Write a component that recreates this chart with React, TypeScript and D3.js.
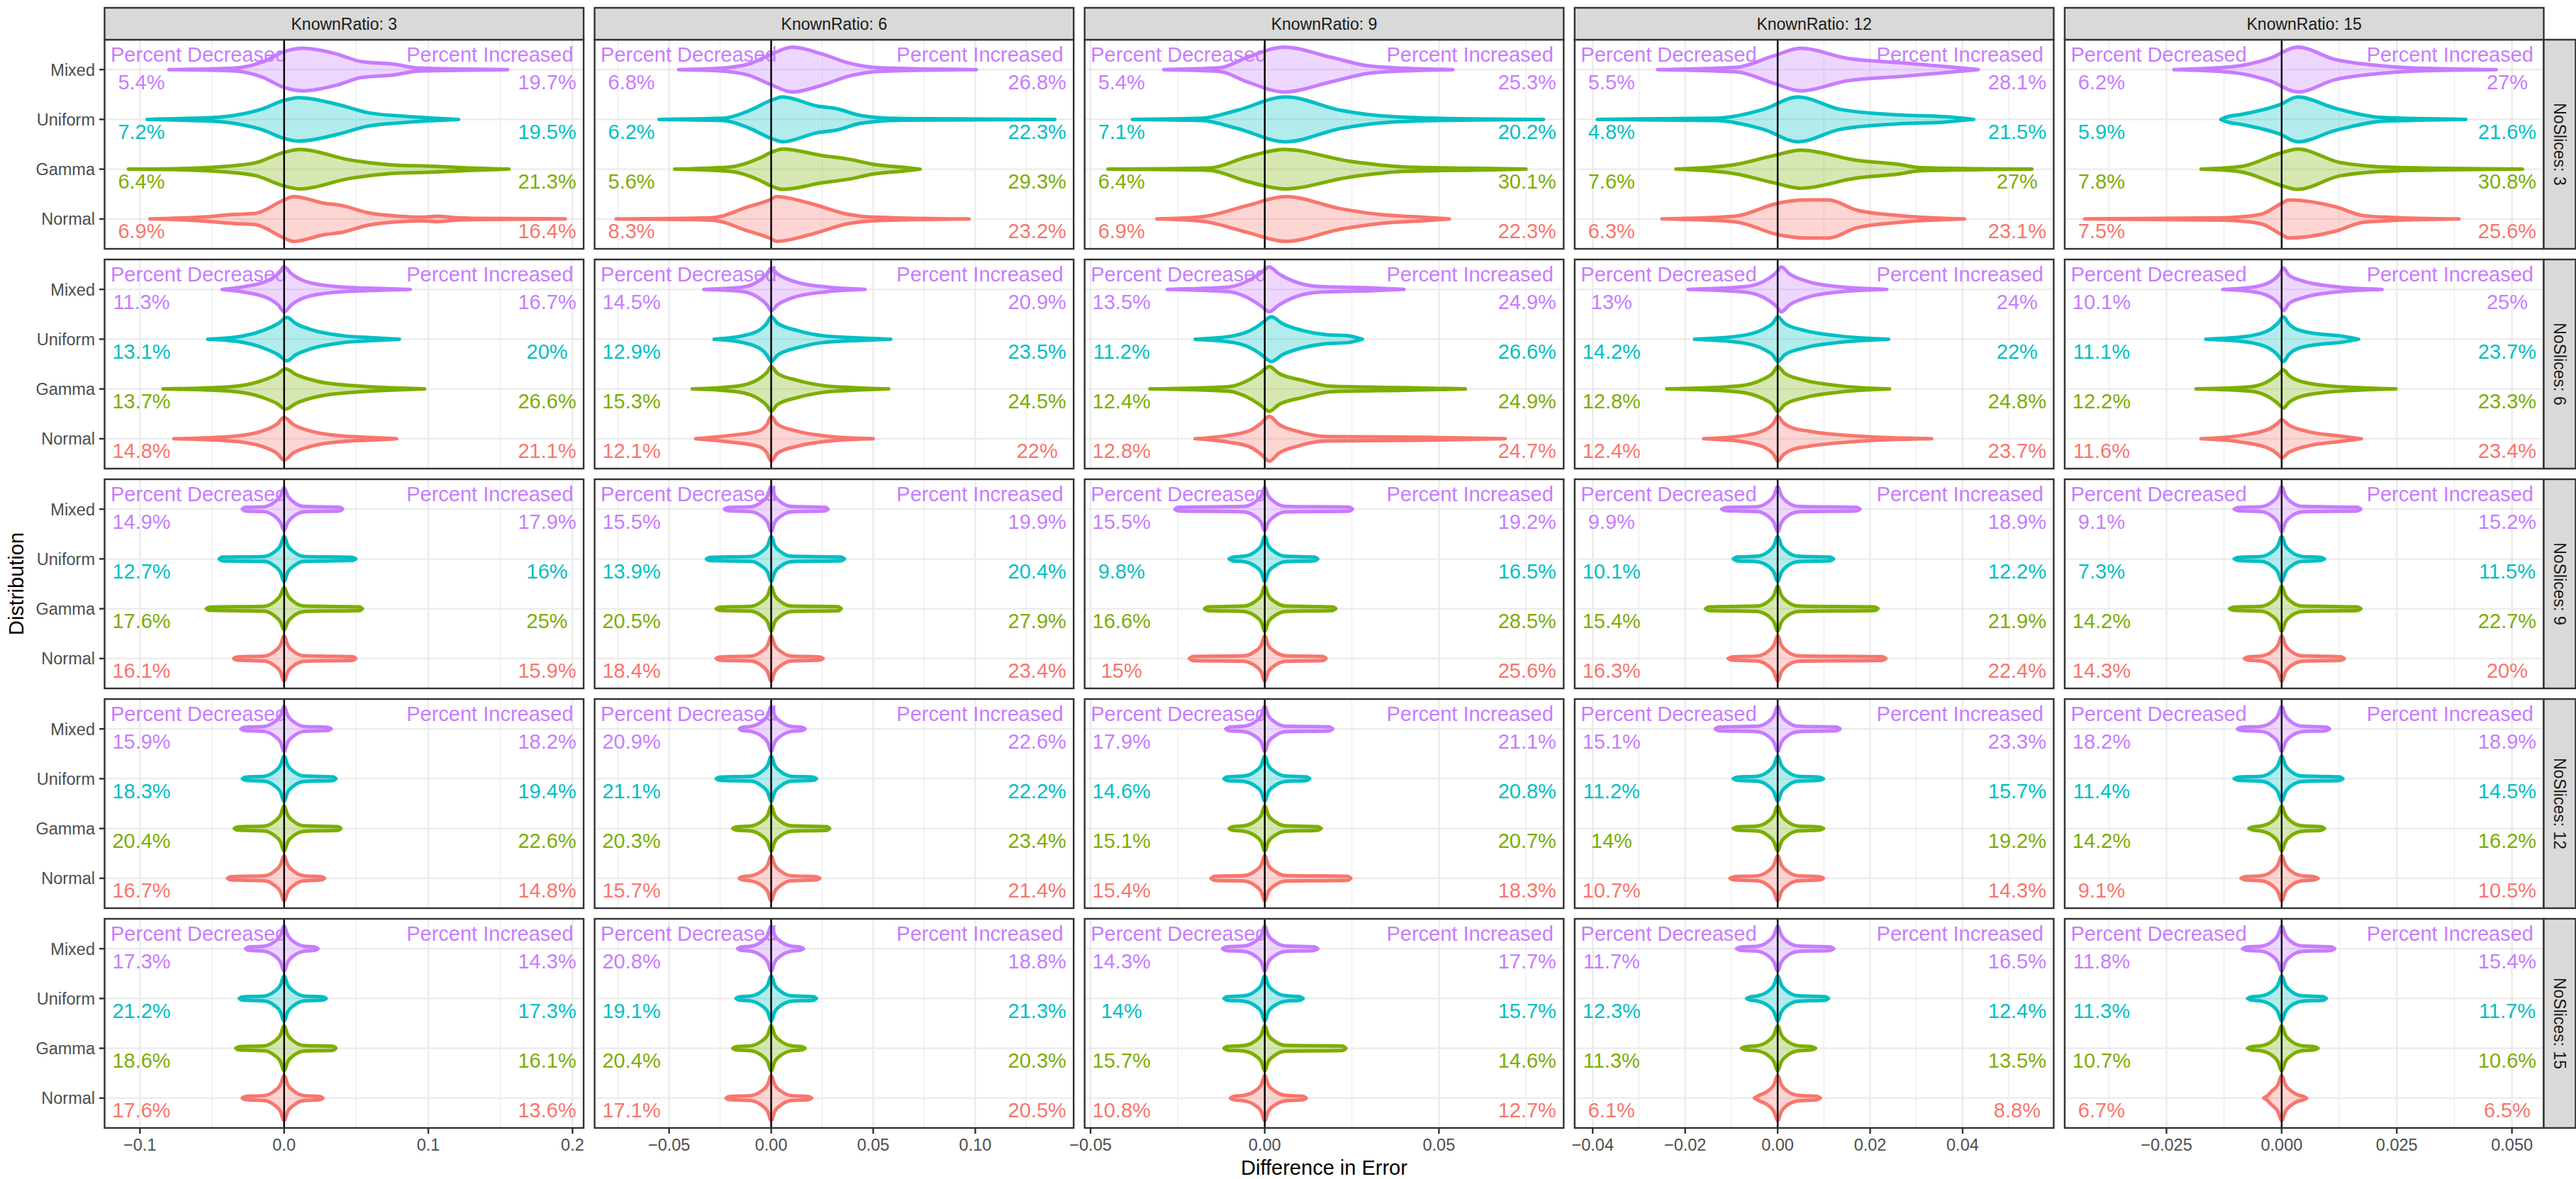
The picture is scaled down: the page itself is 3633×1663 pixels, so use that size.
import React, { useEffect, useRef } from 'react';
import * as d3 from 'd3';

const knownRatios = [3, 6, 9, 12, 15];
const noSlices = [3, 6, 9, 12, 15];
const distributions = ['Normal', 'Gamma', 'Uniform', 'Mixed'];
const distColors = ['#F8766D', '#7CAE00', '#00BFC4', '#C77CFF'];

// free x scales, one per KnownRatio column
const xLimits = [[-0.1245, 0.2077], [-0.0865, 0.1482], [-0.0517, 0.0858], [-0.0439, 0.0597], [-0.0471, 0.0569]];
const xBreaks = [[-0.1, 0, 0.1, 0.2], [-0.05, 0, 0.05, 0.1], [-0.05, 0, 0.05], [-0.04, -0.02, 0, 0.02, 0.04], [-0.025, 0, 0.025, 0.05]];
const xBreakLabels = [
  ['−0.1', '0.0', '0.1', '0.2'],
  ['−0.05', '0.00', '0.05', '0.10'],
  ['−0.05', '0.00', '0.05'],
  ['−0.04', '−0.02', '0.00', '0.02', '0.04'],
  ['−0.025', '0.000', '0.025', '0.050'],
];
const xMinorBreaks = [[-0.05, 0.05, 0.15], [-0.075, -0.025, 0.025, 0.075, 0.125], [-0.025, 0.025, 0.075], [-0.03, -0.01, 0.01, 0.03, 0.05], [-0.0375, -0.0125, 0.0125, 0.0375]];

// violin outlines: [difference, relative half width], per column, order Normal, Gamma, Uniform, Mixed
const violinsSlices3 = [
  [
    [[-0.093, 0], [-0.058, 0.08], [-0.035, 0.2], [-0.02, 0.25], [0, 0.85], [0.0065, 1], [0.028, 0.7], [0.04, 0.6], [0.058, 0.28], [0.08, 0.12], [0.095, 0.08], [0.106, 0.12], [0.118, 0.06], [0.132, 0.03], [0.195, 0]],
    [[-0.108, 0], [-0.063, 0.04], [-0.041, 0.12], [-0.019, 0.3], [0, 0.75], [0.011, 0.88], [0.045, 0.42], [0.08, 0.17], [0.1, 0.14], [0.13, 0.05], [0.156, 0]],
    [[-0.095, 0], [-0.063, 0.05], [-0.045, 0.1], [-0.015, 0.47], [0, 0.85], [0.01, 0.97], [0.037, 0.67], [0.058, 0.3], [0.085, 0.13], [0.102, 0.06], [0.121, 0]],
    [[-0.08, 0], [-0.035, 0.06], [-0.015, 0.34], [0, 0.8], [0.013, 0.95], [0.035, 0.72], [0.054, 0.35], [0.076, 0.24], [0.093, 0.07], [0.155, 0]],
  ],
  [
    [[-0.076, 0], [-0.0295, 0.05], [-0.011, 0.55], [0, 0.88], [0.0026, 1], [0.019, 0.7], [0.038, 0.2], [0.05, 0.08], [0.097, 0]],
    [[-0.0473, 0], [-0.02, 0.1], [-0.0055, 0.5], [0, 0.75], [0.0056, 0.9], [0.0255, 0.6], [0.0377, 0.45], [0.05, 0.22], [0.065, 0.08], [0.073, 0]],
    [[-0.055, 0], [-0.0235, 0.05], [-0.011, 0.38], [0, 0.85], [0.0056, 1], [0.0224, 0.6], [0.032, 0.48], [0.044, 0.17], [0.062, 0.04], [0.139, 0]],
    [[-0.0454, 0], [-0.0265, 0.05], [-0.011, 0.25], [0, 0.68], [0.0103, 1], [0.0255, 0.68], [0.0377, 0.3], [0.053, 0.08], [0.075, 0.03], [0.1005, 0]],
  ],
  [
    [[-0.031, 0], [-0.018, 0.1], [-0.005, 0.6], [0.006, 1], [0.022, 0.45], [0.033, 0.2], [0.045, 0.08], [0.053, 0]],
    [[-0.045, 0], [-0.016, 0.05], [-0.005, 0.55], [0.0056, 0.88], [0.0245, 0.35], [0.04, 0.1], [0.06, 0.04], [0.075, 0]],
    [[-0.038, 0], [-0.018, 0.05], [-0.008, 0.4], [0.006, 1], [0.022, 0.4], [0.033, 0.16], [0.049, 0.05], [0.08, 0]],
    [[-0.029, 0], [-0.013, 0.08], [-0.005, 0.55], [0.0056, 1], [0.019, 0.55], [0.03, 0.16], [0.04, 0.06], [0.054, 0]],
  ],
  [
    [[-0.025, 0], [-0.0093, 0.12], [0, 0.7], [0.006, 0.85], [0.011, 0.85], [0.017, 0.4], [0.027, 0.14], [0.0404, 0]],
    [[-0.022, 0], [-0.0093, 0.2], [-0.001, 0.6], [0.005, 0.85], [0.017, 0.4], [0.026, 0.22], [0.031, 0.07], [0.055, 0]],
    [[-0.039, 0], [-0.0134, 0.05], [-0.003, 0.45], [0.0044, 1], [0.0134, 0.45], [0.026, 0.2], [0.036, 0.12], [0.0424, 0]],
    [[-0.026, 0], [-0.009, 0.1], [-0.001, 0.6], [0.005, 0.95], [0.015, 0.5], [0.027, 0.3], [0.037, 0.12], [0.0434, 0]],
  ],
  [
    [[-0.0428, 0], [-0.0128, 0.05], [-0.0047, 0.2], [0, 0.7], [0.0015, 0.85], [0.0116, 0.55], [0.0177, 0.15], [0.024, 0.07], [0.0385, 0]],
    [[-0.0175, 0], [-0.0088, 0.12], [-0.0005, 0.7], [0.0035, 0.9], [0.0126, 0.3], [0.024, 0.08], [0.0523, 0]],
    [[-0.0132, 0], [-0.012, 0.1], [-0.0088, 0.22], [-0.0005, 0.65], [0.0035, 1], [0.0116, 0.5], [0.022, 0.08], [0.04, 0]],
    [[-0.0234, 0], [-0.011, 0.12], [-0.0026, 0.5], [0.0035, 1], [0.0116, 0.45], [0.02, 0.2], [0.03, 0.06], [0.0466, 0]],
  ],
];

const violinsSlices6 = [
  [
    [[-0.0765, 0], [-0.037, 0.1], [-0.015, 0.35], [-0.005, 0.65], [0, 0.95], [0.006, 0.65], [0.019, 0.33], [0.041, 0.12], [0.06, 0.06], [0.078, 0]],
    [[-0.084, 0], [-0.037, 0.1], [-0.015, 0.38], [-0.005, 0.65], [0.001, 0.9], [0.008, 0.65], [0.024, 0.33], [0.054, 0.12], [0.075, 0.05], [0.0975, 0]],
    [[-0.053, 0], [-0.0325, 0.1], [-0.015, 0.38], [-0.004, 0.7], [0.002, 0.97], [0.008, 0.7], [0.019, 0.42], [0.041, 0.15], [0.06, 0.07], [0.08, 0]],
    [[-0.043, 0], [-0.028, 0.12], [-0.011, 0.4], [-0.004, 0.7], [0, 1], [0.005, 0.7], [0.015, 0.35], [0.037, 0.12], [0.06, 0.05], [0.0875, 0]],
  ],
  [
    [[-0.037, 0], [-0.02, 0.15], [-0.006, 0.35], [-0.002, 0.65], [0, 1], [0.003, 0.65], [0.013, 0.33], [0.029, 0.1], [0.05, 0]],
    [[-0.0387, 0], [-0.017, 0.12], [-0.006, 0.45], [-0.002, 0.75], [0, 1], [0.003, 0.7], [0.013, 0.38], [0.0255, 0.15], [0.04, 0.06], [0.0576, 0]],
    [[-0.028, 0], [-0.014, 0.15], [-0.005, 0.45], [-0.002, 0.72], [0, 1], [0.003, 0.72], [0.013, 0.38], [0.0255, 0.15], [0.04, 0.07], [0.0586, 0]],
    [[-0.033, 0], [-0.014, 0.1], [-0.005, 0.45], [-0.002, 0.7], [0, 0.95], [0.003, 0.7], [0.0103, 0.38], [0.0255, 0.12], [0.046, 0]],
  ],
  [
    [[-0.02, 0], [-0.0105, 0.15], [-0.004, 0.38], [-0.001, 0.7], [0.0013, 1], [0.004, 0.65], [0.0094, 0.33], [0.0175, 0.1], [0.045, 0.07], [0.069, 0]],
    [[-0.033, 0], [-0.0105, 0.1], [-0.004, 0.45], [-0.001, 0.75], [0.0013, 1], [0.004, 0.7], [0.011, 0.38], [0.019, 0.12], [0.04, 0.06], [0.0576, 0]],
    [[-0.02, 0], [-0.009, 0.15], [-0.003, 0.48], [-0.0005, 0.75], [0.0019, 1], [0.005, 0.7], [0.011, 0.38], [0.0175, 0.2], [0.024, 0.15], [0.028, 0]],
    [[-0.028, 0], [-0.0105, 0.1], [-0.004, 0.45], [-0.001, 0.75], [0.0013, 1], [0.004, 0.7], [0.008, 0.38], [0.016, 0.12], [0.03, 0.07], [0.04, 0]],
  ],
  [
    [[-0.016, 0], [-0.007, 0.15], [-0.0025, 0.42], [-0.0008, 0.72], [0, 1], [0.0012, 0.72], [0.003, 0.5], [0.007, 0.33], [0.017, 0.12], [0.0333, 0]],
    [[-0.024, 0], [-0.009, 0.12], [-0.003, 0.45], [-0.001, 0.72], [0, 1], [0.0015, 0.7], [0.006, 0.38], [0.013, 0.15], [0.0242, 0]],
    [[-0.018, 0], [-0.008, 0.15], [-0.003, 0.45], [-0.001, 0.72], [0, 1], [0.0015, 0.7], [0.006, 0.38], [0.013, 0.15], [0.024, 0]],
    [[-0.0194, 0], [-0.007, 0.12], [-0.002, 0.48], [-0.0003, 0.75], [0.0008, 1], [0.0025, 0.7], [0.006, 0.38], [0.013, 0.12], [0.0236, 0]],
  ],
  [
    [[-0.0175, 0], [-0.0088, 0.15], [-0.0026, 0.45], [-0.0008, 0.7], [0, 0.85], [0.0015, 0.62], [0.0055, 0.33], [0.0126, 0.12], [0.0173, 0]],
    [[-0.0186, 0], [-0.0067, 0.1], [-0.0026, 0.38], [-0.0008, 0.65], [0.0004, 0.85], [0.0015, 0.62], [0.0035, 0.38], [0.0096, 0.15], [0.0248, 0]],
    [[-0.0165, 0], [-0.0077, 0.12], [-0.0026, 0.42], [-0.0008, 0.72], [0.0004, 1], [0.0015, 0.7], [0.0035, 0.42], [0.0096, 0.2], [0.0126, 0.15], [0.0167, 0]],
    [[-0.0128, 0], [-0.0057, 0.12], [-0.0016, 0.45], [-0.0004, 0.7], [0.0004, 0.95], [0.0015, 0.65], [0.0045, 0.38], [0.0116, 0.12], [0.0218, 0]],
  ],
];

const violinsSlices9 = [
  [
    [[-0.035, 0], [-0.033, 0.07], [-0.014, 0.11], [-0.007, 0.3], [-0.0025, 0.6], [0, 1], [0.0025, 0.6], [0.007, 0.3], [0.014, 0.12], [0.0477, 0.08], [0.0497, 0]],
    [[-0.054, 0], [-0.052, 0.07], [-0.014, 0.11], [-0.007, 0.3], [-0.0025, 0.6], [0, 0.95], [0.0025, 0.6], [0.007, 0.3], [0.014, 0.12], [0.0523, 0.08], [0.0543, 0]],
    [[-0.045, 0], [-0.043, 0.08], [-0.014, 0.11], [-0.007, 0.3], [-0.0025, 0.6], [0, 1], [0.0025, 0.6], [0.007, 0.3], [0.014, 0.11], [0.0477, 0.07], [0.0497, 0]],
    [[-0.029, 0], [-0.027, 0.08], [-0.014, 0.11], [-0.007, 0.3], [-0.0025, 0.6], [0, 0.95], [0.0025, 0.6], [0.007, 0.3], [0.014, 0.12], [0.0386, 0.08], [0.0406, 0]],
  ],
  [
    [[-0.0269, 0], [-0.0254, 0.07], [-0.01, 0.11], [-0.005, 0.3], [-0.0017, 0.6], [0, 1], [0.0017, 0.6], [0.005, 0.3], [0.01, 0.11], [0.0239, 0.07], [0.0254, 0]],
    [[-0.0269, 0], [-0.0254, 0.07], [-0.01, 0.11], [-0.005, 0.3], [-0.0017, 0.6], [0, 1], [0.0017, 0.6], [0.005, 0.3], [0.01, 0.12], [0.0328, 0.09], [0.0343, 0]],
    [[-0.0317, 0], [-0.0302, 0.07], [-0.01, 0.11], [-0.005, 0.3], [-0.0017, 0.6], [0, 1], [0.0017, 0.6], [0.005, 0.3], [0.01, 0.12], [0.0344, 0.08], [0.0359, 0]],
    [[-0.0229, 0], [-0.0214, 0.07], [-0.01, 0.11], [-0.005, 0.3], [-0.0017, 0.6], [0, 1], [0.0017, 0.6], [0.005, 0.3], [0.01, 0.12], [0.0264, 0.08], [0.0279, 0]],
  ],
  [
    [[-0.0216, 0], [-0.0206, 0.09], [-0.006, 0.12], [-0.003, 0.3], [-0.001, 0.6], [0, 1], [0.001, 0.6], [0.003, 0.3], [0.006, 0.12], [0.0166, 0.09], [0.0176, 0]],
    [[-0.0173, 0], [-0.0163, 0.08], [-0.006, 0.12], [-0.003, 0.3], [-0.001, 0.6], [0, 1], [0.001, 0.6], [0.003, 0.3], [0.006, 0.12], [0.0194, 0.08], [0.0204, 0]],
    [[-0.0102, 0], [-0.0092, 0.08], [-0.006, 0.12], [-0.003, 0.3], [-0.001, 0.6], [0, 1], [0.001, 0.6], [0.003, 0.3], [0.006, 0.12], [0.0142, 0.08], [0.0152, 0]],
    [[-0.0258, 0], [-0.0248, 0.08], [-0.006, 0.12], [-0.003, 0.3], [-0.001, 0.6], [0, 0.95], [0.001, 0.6], [0.003, 0.3], [0.006, 0.12], [0.0242, 0.09], [0.0252, 0]],
  ],
  [
    [[-0.0107, 0], [-0.0099, 0.07], [-0.0045, 0.11], [-0.0022, 0.3], [-0.0008, 0.6], [0, 1], [0.0008, 0.6], [0.0022, 0.3], [0.0045, 0.12], [0.0226, 0.08], [0.0234, 0]],
    [[-0.0156, 0], [-0.0148, 0.08], [-0.0045, 0.12], [-0.0022, 0.3], [-0.0008, 0.6], [0, 1], [0.0008, 0.6], [0.0022, 0.3], [0.0045, 0.12], [0.0209, 0.08], [0.0217, 0]],
    [[-0.0096, 0], [-0.0088, 0.08], [-0.0045, 0.12], [-0.0022, 0.3], [-0.0008, 0.6], [0, 1], [0.0008, 0.6], [0.0022, 0.3], [0.0045, 0.12], [0.0113, 0.08], [0.0121, 0]],
    [[-0.0121, 0], [-0.0113, 0.07], [-0.0045, 0.11], [-0.0022, 0.3], [-0.0008, 0.6], [0, 1], [0.0008, 0.6], [0.0022, 0.3], [0.0045, 0.12], [0.017, 0.08], [0.0178, 0]],
  ],
  [
    [[-0.0081, 0], [-0.0073, 0.07], [-0.0045, 0.11], [-0.0022, 0.3], [-0.0008, 0.6], [0, 1], [0.0008, 0.6], [0.0022, 0.3], [0.0045, 0.12], [0.0128, 0.08], [0.0136, 0]],
    [[-0.0113, 0], [-0.0105, 0.07], [-0.0045, 0.11], [-0.0022, 0.3], [-0.0008, 0.6], [0, 1], [0.0008, 0.6], [0.0022, 0.3], [0.0045, 0.12], [0.0164, 0.08], [0.0172, 0]],
    [[-0.0103, 0], [-0.0095, 0.07], [-0.0045, 0.11], [-0.0022, 0.3], [-0.0008, 0.6], [0, 1], [0.0008, 0.6], [0.0022, 0.3], [0.0045, 0.11], [0.0085, 0.07], [0.0093, 0]],
    [[-0.0103, 0], [-0.0095, 0.07], [-0.0045, 0.11], [-0.0022, 0.3], [-0.0008, 0.6], [0, 1], [0.0008, 0.6], [0.0022, 0.3], [0.0045, 0.12], [0.0164, 0.08], [0.0172, 0]],
  ],
];

const violinsSlices12 = [
  [
    [[-0.0392, 0], [-0.0372, 0.07], [-0.014, 0.11], [-0.007, 0.3], [-0.0025, 0.6], [0, 1], [0.0025, 0.6], [0.007, 0.3], [0.014, 0.11], [0.026, 0.07], [0.028, 0]],
    [[-0.0346, 0], [-0.0326, 0.07], [-0.014, 0.11], [-0.007, 0.3], [-0.0025, 0.6], [0, 1], [0.0025, 0.6], [0.007, 0.3], [0.014, 0.12], [0.0374, 0.08], [0.0394, 0]],
    [[-0.029, 0], [-0.027, 0.07], [-0.014, 0.11], [-0.007, 0.3], [-0.0025, 0.6], [0, 1], [0.0025, 0.6], [0.007, 0.3], [0.014, 0.12], [0.034, 0.08], [0.036, 0]],
    [[-0.03, 0], [-0.028, 0.07], [-0.014, 0.11], [-0.007, 0.3], [-0.0025, 0.6], [0, 1], [0.0025, 0.6], [0.007, 0.3], [0.014, 0.11], [0.0306, 0.07], [0.0326, 0]],
  ],
  [
    [[-0.0156, 0], [-0.0141, 0.07], [-0.01, 0.11], [-0.005, 0.3], [-0.0017, 0.6], [0, 1], [0.0017, 0.6], [0.005, 0.3], [0.01, 0.11], [0.0223, 0.07], [0.0238, 0]],
    [[-0.0188, 0], [-0.0173, 0.07], [-0.01, 0.11], [-0.005, 0.3], [-0.0017, 0.6], [0, 1], [0.0017, 0.6], [0.005, 0.3], [0.01, 0.12], [0.0272, 0.08], [0.0287, 0]],
    [[-0.0269, 0], [-0.0254, 0.07], [-0.01, 0.11], [-0.005, 0.3], [-0.0017, 0.6], [0, 1], [0.0017, 0.6], [0.005, 0.3], [0.01, 0.11], [0.0207, 0.07], [0.0222, 0]],
    [[-0.0156, 0], [-0.0141, 0.07], [-0.01, 0.11], [-0.005, 0.3], [-0.0017, 0.6], [0, 1], [0.0017, 0.6], [0.005, 0.3], [0.01, 0.11], [0.0151, 0.07], [0.0166, 0]],
  ],
  [
    [[-0.0154, 0], [-0.0144, 0.09], [-0.006, 0.12], [-0.003, 0.3], [-0.001, 0.6], [0, 1], [0.001, 0.6], [0.003, 0.3], [0.006, 0.12], [0.0237, 0.09], [0.0247, 0]],
    [[-0.0102, 0], [-0.0092, 0.08], [-0.006, 0.12], [-0.003, 0.3], [-0.001, 0.6], [0, 1], [0.001, 0.6], [0.003, 0.3], [0.006, 0.12], [0.0152, 0.08], [0.0162, 0]],
    [[-0.0117, 0], [-0.0107, 0.08], [-0.006, 0.12], [-0.003, 0.3], [-0.001, 0.6], [0, 1], [0.001, 0.6], [0.003, 0.3], [0.006, 0.12], [0.0119, 0.08], [0.0129, 0]],
    [[-0.0112, 0], [-0.0102, 0.08], [-0.006, 0.12], [-0.003, 0.3], [-0.001, 0.6], [0, 1], [0.001, 0.6], [0.003, 0.3], [0.006, 0.12], [0.0185, 0.09], [0.0195, 0]],
  ],
  [
    [[-0.0103, 0], [-0.0095, 0.07], [-0.0045, 0.11], [-0.0022, 0.3], [-0.0008, 0.6], [0, 1], [0.0008, 0.6], [0.0022, 0.3], [0.0045, 0.11], [0.0091, 0.07], [0.0099, 0]],
    [[-0.0096, 0], [-0.0088, 0.07], [-0.0045, 0.11], [-0.0022, 0.3], [-0.0008, 0.6], [0, 1], [0.0008, 0.6], [0.0022, 0.3], [0.0045, 0.11], [0.0091, 0.07], [0.0099, 0]],
    [[-0.0096, 0], [-0.0088, 0.07], [-0.0045, 0.11], [-0.0022, 0.3], [-0.0008, 0.6], [0, 1], [0.0008, 0.6], [0.0022, 0.3], [0.0045, 0.11], [0.0091, 0.07], [0.0099, 0]],
    [[-0.0135, 0], [-0.0127, 0.08], [-0.0045, 0.12], [-0.0022, 0.3], [-0.0008, 0.6], [0, 1], [0.0008, 0.6], [0.0022, 0.3], [0.0045, 0.12], [0.0127, 0.08], [0.0135, 0]],
  ],
  [
    [[-0.0088, 0], [-0.008, 0.07], [-0.0045, 0.11], [-0.0022, 0.3], [-0.0008, 0.6], [0, 1], [0.0008, 0.6], [0.0022, 0.3], [0.0045, 0.11], [0.0071, 0.07], [0.0079, 0]],
    [[-0.0071, 0], [-0.0063, 0.07], [-0.0045, 0.11], [-0.0022, 0.3], [-0.0008, 0.6], [0, 1], [0.0008, 0.6], [0.0022, 0.3], [0.0045, 0.12], [0.0085, 0.08], [0.0093, 0]],
    [[-0.0103, 0], [-0.0095, 0.07], [-0.0045, 0.11], [-0.0022, 0.3], [-0.0008, 0.6], [0, 1], [0.0008, 0.6], [0.0022, 0.3], [0.0045, 0.12], [0.0125, 0.08], [0.0133, 0]],
    [[-0.0096, 0], [-0.0088, 0.07], [-0.0045, 0.11], [-0.0022, 0.3], [-0.0008, 0.6], [0, 1], [0.0008, 0.6], [0.0022, 0.3], [0.0045, 0.12], [0.0096, 0.08], [0.0104, 0]],
  ],
];

const violinsSlices15 = [
  [
    [[-0.029, 0], [-0.027, 0.07], [-0.014, 0.11], [-0.007, 0.3], [-0.0025, 0.6], [0, 1], [0.0025, 0.6], [0.007, 0.3], [0.014, 0.11], [0.0249, 0.07], [0.0269, 0]],
    [[-0.0335, 0], [-0.0315, 0.07], [-0.014, 0.11], [-0.007, 0.3], [-0.0025, 0.6], [0, 1], [0.0025, 0.6], [0.007, 0.3], [0.014, 0.12], [0.034, 0.09], [0.036, 0]],
    [[-0.0312, 0], [-0.0292, 0.07], [-0.014, 0.11], [-0.007, 0.3], [-0.0025, 0.6], [0, 1], [0.0025, 0.6], [0.007, 0.3], [0.014, 0.11], [0.0272, 0.07], [0.0292, 0]],
    [[-0.0267, 0], [-0.0247, 0.07], [-0.014, 0.11], [-0.007, 0.3], [-0.0025, 0.6], [0, 1], [0.0025, 0.6], [0.007, 0.3], [0.014, 0.11], [0.0215, 0.07], [0.0235, 0]],
  ],
  [
    [[-0.0221, 0], [-0.0206, 0.07], [-0.01, 0.11], [-0.005, 0.3], [-0.0017, 0.6], [0, 1], [0.0017, 0.6], [0.005, 0.3], [0.01, 0.11], [0.0183, 0.07], [0.0198, 0]],
    [[-0.0188, 0], [-0.0173, 0.07], [-0.01, 0.11], [-0.005, 0.3], [-0.0017, 0.6], [0, 1], [0.0017, 0.6], [0.005, 0.3], [0.01, 0.11], [0.0151, 0.07], [0.0166, 0]],
    [[-0.0172, 0], [-0.0157, 0.07], [-0.01, 0.11], [-0.005, 0.3], [-0.0017, 0.6], [0, 1], [0.0017, 0.6], [0.005, 0.3], [0.01, 0.12], [0.0207, 0.08], [0.0222, 0]],
    [[-0.0164, 0], [-0.0149, 0.07], [-0.01, 0.11], [-0.005, 0.3], [-0.0017, 0.6], [0, 1], [0.0017, 0.6], [0.005, 0.3], [0.01, 0.11], [0.0143, 0.07], [0.0158, 0]],
  ],
  [
    [[-0.0098, 0], [-0.0088, 0.08], [-0.006, 0.12], [-0.003, 0.3], [-0.001, 0.6], [0, 1], [0.001, 0.6], [0.003, 0.3], [0.006, 0.12], [0.0109, 0.08], [0.0119, 0]],
    [[-0.0117, 0], [-0.0107, 0.08], [-0.006, 0.12], [-0.003, 0.3], [-0.001, 0.6], [0, 1], [0.001, 0.6], [0.003, 0.3], [0.006, 0.13], [0.0223, 0.1], [0.0233, 0]],
    [[-0.0117, 0], [-0.0107, 0.08], [-0.006, 0.12], [-0.003, 0.3], [-0.001, 0.6], [0, 1], [0.001, 0.6], [0.003, 0.3], [0.006, 0.12], [0.01, 0.08], [0.011, 0]],
    [[-0.0121, 0], [-0.0111, 0.08], [-0.006, 0.12], [-0.003, 0.3], [-0.001, 0.6], [0, 1], [0.001, 0.6], [0.003, 0.3], [0.006, 0.12], [0.0142, 0.08], [0.0152, 0]],
  ],
  [
    [[-0.005, 0], [-0.0042, 0.1], [-0.0022, 0.3], [-0.0008, 0.6], [0, 1], [0.0008, 0.6], [0.0022, 0.3], [0.0045, 0.12], [0.0084, 0.08], [0.0092, 0]],
    [[-0.0078, 0], [-0.007, 0.07], [-0.0045, 0.11], [-0.0022, 0.3], [-0.0008, 0.6], [0, 1], [0.0008, 0.6], [0.0022, 0.3], [0.0045, 0.11], [0.0074, 0.07], [0.0082, 0]],
    [[-0.0067, 0], [-0.0059, 0.07], [-0.0045, 0.11], [-0.0022, 0.3], [-0.0008, 0.6], [0, 1], [0.0008, 0.6], [0.0022, 0.3], [0.0045, 0.12], [0.0102, 0.08], [0.011, 0]],
    [[-0.0089, 0], [-0.0081, 0.07], [-0.0045, 0.11], [-0.0022, 0.3], [-0.0008, 0.6], [0, 1], [0.0008, 0.6], [0.0022, 0.3], [0.0045, 0.12], [0.0113, 0.08], [0.0121, 0]],
  ],
  [
    [[-0.0039, 0], [-0.0031, 0.1], [-0.0022, 0.3], [-0.0008, 0.6], [0, 1], [0.0008, 0.6], [0.0022, 0.3], [0.0038, 0.12], [0.0046, 0.09], [0.0054, 0]],
    [[-0.0074, 0], [-0.0066, 0.07], [-0.0045, 0.11], [-0.0022, 0.3], [-0.0008, 0.6], [0, 1], [0.0008, 0.6], [0.0022, 0.3], [0.0045, 0.11], [0.0071, 0.07], [0.0079, 0]],
    [[-0.0074, 0], [-0.0066, 0.07], [-0.0045, 0.11], [-0.0022, 0.3], [-0.0008, 0.6], [0, 1], [0.0008, 0.6], [0.0022, 0.3], [0.0045, 0.12], [0.0089, 0.08], [0.0097, 0]],
    [[-0.0085, 0], [-0.0077, 0.07], [-0.0045, 0.11], [-0.0022, 0.3], [-0.0008, 0.6], [0, 1], [0.0008, 0.6], [0.0022, 0.3], [0.0045, 0.12], [0.0107, 0.08], [0.0115, 0]],
  ],
];

const violins = [violinsSlices3, violinsSlices6, violinsSlices9, violinsSlices12, violinsSlices15];

// percent labels [row NoSlices][column KnownRatio][Normal, Gamma, Uniform, Mixed]
const percentDecreased = [
  [[6.9, 6.4, 7.2, 5.4], [8.3, 5.6, 6.2, 6.8], [6.9, 6.4, 7.1, 5.4], [6.3, 7.6, 4.8, 5.5], [7.5, 7.8, 5.9, 6.2]],
  [[14.8, 13.7, 13.1, 11.3], [12.1, 15.3, 12.9, 14.5], [12.8, 12.4, 11.2, 13.5], [12.4, 12.8, 14.2, 13], [11.6, 12.2, 11.1, 10.1]],
  [[16.1, 17.6, 12.7, 14.9], [18.4, 20.5, 13.9, 15.5], [15, 16.6, 9.8, 15.5], [16.3, 15.4, 10.1, 9.9], [14.3, 14.2, 7.3, 9.1]],
  [[16.7, 20.4, 18.3, 15.9], [15.7, 20.3, 21.1, 20.9], [15.4, 15.1, 14.6, 17.9], [10.7, 14, 11.2, 15.1], [9.1, 14.2, 11.4, 18.2]],
  [[17.6, 18.6, 21.2, 17.3], [17.1, 20.4, 19.1, 20.8], [10.8, 15.7, 14, 14.3], [6.1, 11.3, 12.3, 11.7], [6.7, 10.7, 11.3, 11.8]],
];
const percentIncreased = [
  [[16.4, 21.3, 19.5, 19.7], [23.2, 29.3, 22.3, 26.8], [22.3, 30.1, 20.2, 25.3], [23.1, 27, 21.5, 28.1], [25.6, 30.8, 21.6, 27]],
  [[21.1, 26.6, 20, 16.7], [22, 24.5, 23.5, 20.9], [24.7, 24.9, 26.6, 24.9], [23.7, 24.8, 22, 24], [23.4, 23.3, 23.7, 25]],
  [[15.9, 25, 16, 17.9], [23.4, 27.9, 20.4, 19.9], [25.6, 28.5, 16.5, 19.2], [22.4, 21.9, 12.2, 18.9], [20, 22.7, 11.5, 15.2]],
  [[14.8, 22.6, 19.4, 18.2], [21.4, 23.4, 22.2, 22.6], [18.3, 20.7, 20.8, 21.1], [14.3, 19.2, 15.7, 23.3], [10.5, 16.2, 14.5, 18.9]],
  [[13.6, 16.1, 17.3, 14.3], [20.5, 20.3, 21.3, 18.8], [12.7, 14.6, 15.7, 17.7], [8.8, 13.5, 12.4, 16.5], [6.5, 10.6, 11.7, 15.4]],
];

const W = 3633;
const H = 1663;
const panelLeft = 147.5;
const panelTop = 56;
const panelW = 675.6;
const panelH = 295;
const gapX = 15.5;
const gapY = 15;
const stripSize = 45;
const font = '"Liberation Sans", Arial, Helvetica, sans-serif';

export default function App() {
  const ref = useRef<SVGSVGElement>(null);

  useEffect(() => {
    const svg = d3.select(ref.current);
    svg.selectAll('*').remove();
    svg.append('rect').attr('width', W).attr('height', H).attr('fill', '#FFFFFF');

    const y = d3.scalePoint<string>().domain(distributions).range([panelH, 0]).padding(0.6);
    const half = 0.45 * y.step();
    const panelsRight = panelLeft + 5 * panelW + 4 * gapX;

    noSlices.forEach((ns, r) => {
      const top = panelTop + r * (panelH + gapY);
      knownRatios.forEach((kr, c) => {
        const left = panelLeft + c * (panelW + gapX);
        const x = d3.scaleLinear().domain(xLimits[c]).range([0, panelW]);
        const g = svg.append('g').attr('transform', `translate(${left},${top})`);

        g.append('rect').attr('width', panelW).attr('height', panelH).attr('fill', '#FFFFFF');

        g.selectAll('.minor').data(xMinorBreaks[c]).enter().append('line')
          .attr('x1', d => x(d)).attr('x2', d => x(d))
          .attr('y1', 0).attr('y2', panelH)
          .attr('stroke', '#EBEBEB').attr('stroke-width', 1.2);
        g.selectAll('.major').data(xBreaks[c]).enter().append('line')
          .attr('x1', d => x(d)).attr('x2', d => x(d))
          .attr('y1', 0).attr('y2', panelH)
          .attr('stroke', '#EBEBEB').attr('stroke-width', 2.4);
        g.selectAll('.hgrid').data(distributions).enter().append('line')
          .attr('x1', 0).attr('x2', panelW)
          .attr('y1', d => y(d)!).attr('y2', d => y(d)!)
          .attr('stroke', '#EBEBEB').attr('stroke-width', 2.4);

        distributions.forEach((dist, k) => {
          const yc = y(dist)!;
          const area = d3.area<number[]>()
            .x(d => x(d[0]))
            .y0(d => yc + d[1] * half)
            .y1(d => yc - d[1] * half)
            .curve(d3.curveMonotoneX);
          g.append('path')
            .attr('d', area(violins[r][c][k]))
            .attr('fill', distColors[k]).attr('fill-opacity', 0.3)
            .attr('stroke', distColors[k]).attr('stroke-width', 5)
            .attr('stroke-linejoin', 'round');
        });

        const yTop = y('Mixed')!;
        g.append('text').attr('x', 8.5).attr('y', yTop - 11.4)
          .attr('font-family', font).attr('font-size', 29).attr('fill', distColors[3])
          .text('Percent Decreased');
        g.append('text').attr('x', panelW - 14.5).attr('y', yTop - 11.4)
          .attr('text-anchor', 'end')
          .attr('font-family', font).attr('font-size', 29).attr('fill', distColors[3])
          .text('Percent Increased');

        distributions.forEach((dist, k) => {
          const yc = y(dist)!;
          g.append('text').attr('x', 52).attr('y', yc + 27.5)
            .attr('text-anchor', 'middle')
            .attr('font-family', font).attr('font-size', 29).attr('fill', distColors[k])
            .text(`${percentDecreased[r][c][k]}%`);
          g.append('text').attr('x', panelW - 51.5).attr('y', yc + 27.5)
            .attr('text-anchor', 'middle')
            .attr('font-family', font).attr('font-size', 29).attr('fill', distColors[k])
            .text(`${percentIncreased[r][c][k]}%`);
        });

        g.append('line').attr('x1', x(0)).attr('x2', x(0)).attr('y1', 0).attr('y2', panelH)
          .attr('stroke', '#000000').attr('stroke-width', 2.4);

        g.append('rect').attr('width', panelW).attr('height', panelH)
          .attr('fill', 'none').attr('stroke', '#333333').attr('stroke-width', 2.4);

        if (r === 0) {
          svg.append('rect').attr('x', left).attr('y', panelTop - stripSize)
            .attr('width', panelW).attr('height', stripSize)
            .attr('fill', '#D9D9D9').attr('stroke', '#333333').attr('stroke-width', 2.4);
          svg.append('text').attr('x', left + panelW / 2).attr('y', panelTop - stripSize / 2 + 8.2)
            .attr('text-anchor', 'middle').attr('font-family', font).attr('font-size', 23)
            .attr('fill', '#1A1A1A').text(`KnownRatio: ${kr}`);
        }

        if (r === noSlices.length - 1) {
          const ax = svg.append('g').attr('transform', `translate(${left},${top + panelH})`);
          ax.selectAll('line').data(xBreaks[c]).enter().append('line')
            .attr('x1', d => x(d)).attr('x2', d => x(d))
            .attr('y1', 0).attr('y2', 8)
            .attr('stroke', '#333333').attr('stroke-width', 2.4);
          ax.selectAll('text').data(xBreaks[c]).enter().append('text')
            .attr('x', d => x(d)).attr('y', 31.5)
            .attr('text-anchor', 'middle').attr('font-family', font).attr('font-size', 23.5)
            .attr('fill', '#4D4D4D')
            .text((d, i) => xBreakLabels[c][i]);
        }
      });

      // right strip
      svg.append('rect').attr('x', panelsRight).attr('y', top)
        .attr('width', stripSize).attr('height', panelH)
        .attr('fill', '#D9D9D9').attr('stroke', '#333333').attr('stroke-width', 2.4);
      svg.append('text')
        .attr('transform', `translate(${panelsRight + stripSize / 2},${top + panelH / 2}) rotate(90)`)
        .attr('text-anchor', 'middle').attr('dy', '0.35em')
        .attr('font-family', font).attr('font-size', 23).attr('fill', '#1A1A1A')
        .text(`NoSlices: ${ns}`);

      // y axis
      const ay = svg.append('g').attr('transform', `translate(${panelLeft},${top})`);
      ay.selectAll('line').data(distributions).enter().append('line')
        .attr('x1', -7.5).attr('x2', 0)
        .attr('y1', d => y(d)!).attr('y2', d => y(d)!)
        .attr('stroke', '#333333').attr('stroke-width', 2.4);
      ay.selectAll('text').data(distributions).enter().append('text')
        .attr('x', -13.5).attr('y', d => y(d)! + 8.4)
        .attr('text-anchor', 'end').attr('font-family', font).attr('font-size', 23.5)
        .attr('fill', '#4D4D4D').text(d => d);
    });

    svg.append('text').attr('x', (panelLeft + panelsRight) / 2).attr('y', 1656.5)
      .attr('text-anchor', 'middle').attr('font-family', font).attr('font-size', 29)
      .attr('fill', '#000000').text('Difference in Error');
    const yMid = panelTop + (5 * panelH + 4 * gapY) / 2;
    svg.append('text')
      .attr('transform', `translate(23,${yMid}) rotate(-90)`)
      .attr('text-anchor', 'middle').attr('dy', '0.35em')
      .attr('font-family', font).attr('font-size', 29).attr('fill', '#000000')
      .text('Distribution');
  }, []);

  return (
    <svg ref={ref} width={W} height={H} style={{ position: 'absolute', left: 0, top: 0 }} />
  );
}
